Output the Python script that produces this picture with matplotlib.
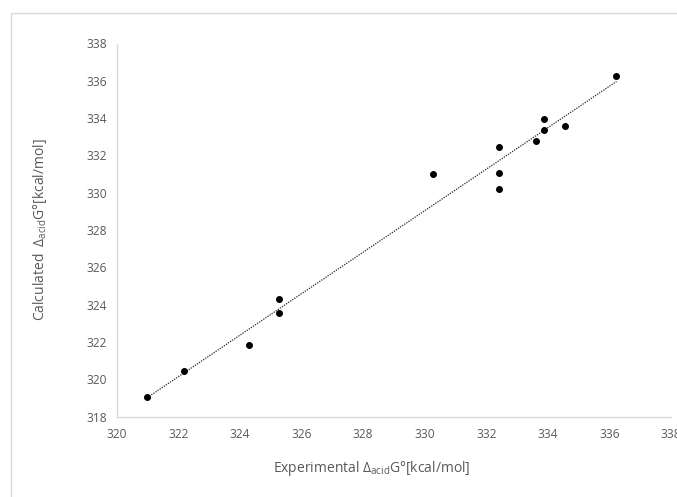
import numpy as np
import matplotlib.pyplot as plt
from matplotlib.patches import Rectangle

# experimental vs calculated acidity (kcal/mol)
exp_g = [320.99, 322.18, 324.31, 325.28, 325.28, 330.27, 332.41, 332.41,
         332.41, 333.62, 333.86, 333.86, 334.57, 336.23]
calc_g = [319.07, 320.47, 321.83, 324.32, 323.57, 331.02, 332.45, 331.08,
          330.20, 332.76, 333.98, 333.35, 333.60, 336.25]
x_ticks = [320, 322, 324, 326, 328, 330, 332, 334, 336, 338]
y_ticks = [318, 320, 322, 324, 326, 328, 330, 332, 334, 336, 338]

plt.rcParams['font.family'] = ['Open Sans', 'DejaVu Sans']
plt.rcParams['mathtext.fontset'] = 'custom'
plt.rcParams['mathtext.rm'] = 'Open Sans'
plt.rcParams['mathtext.it'] = 'Open Sans:italic'
plt.rcParams['mathtext.bf'] = 'Open Sans:bold'

grey = '#595959'
fig = plt.figure(figsize=(6.77, 4.97), dpi=100)

# chart border (cut off at right and bottom like the reference)
fig.patches.append(Rectangle((11/677, -0.1), 1.0, 1 - 13/497 + 0.1,
                             transform=fig.transFigure, fill=False,
                             edgecolor='#d9d9d9', lw=1))

ax = fig.add_axes([116.7/677, 80.3/497, 554.3/677, 373.2/497])
ax.scatter(exp_g, calc_g, s=16, color='black', zorder=3)

# linear trendline
k, b = np.polyfit(exp_g, calc_g, 1)
xs = np.array([min(exp_g), max(exp_g)])
ax.plot(xs, k * xs + b, color='#262626', lw=0.9, linestyle=(0, (1, 1)))

ax.set_xlim(320, 338)
ax.set_ylim(318, 338)
ax.set_xticks(x_ticks)
ax.set_yticks(y_ticks)
ax.tick_params(length=0, labelsize=8.6, labelcolor=grey, pad=8)
ax.tick_params(axis='y', pad=7)
for s in ['top', 'right']:
    ax.spines[s].set_visible(False)
for s in ['left', 'bottom']:
    ax.spines[s].set_color('#d9d9d9')
    ax.spines[s].set_linewidth(1)

fig.text(372/677, 1 - 468/497, r'Experimental $\mathrm{\Delta_{acid}}$G°[kcal/mol]',
         ha='center', va='center', fontsize=10, color=grey)
fig.text(40/677, 1 - 230/497, r'Calculated  $\mathrm{\Delta_{acid}}$G°[kcal/mol]',
         ha='center', va='center', rotation=90, fontsize=10, color=grey)

fig.savefig('out.png', dpi=100)
